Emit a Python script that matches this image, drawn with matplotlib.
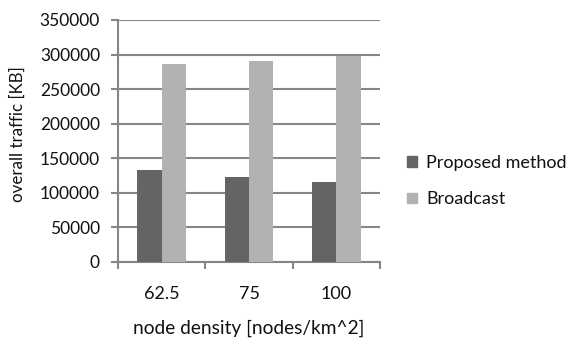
import matplotlib
matplotlib.use("Agg")
import matplotlib.pyplot as plt
import numpy as np
from matplotlib.patches import Patch

categories = ["62.5", "75", "100"]
proposed = [133000, 123000, 116000]
broadcast = [287000, 290000, 298000]
series_names = ["Proposed method", "Broadcast"]
yticks = [0, 50000, 100000, 150000, 200000, 250000, 300000, 350000]

plt.rcParams['font.family'] = ['Lato', 'DejaVu Sans']

fig = plt.figure(figsize=(5.7, 3.4), dpi=100)
ax = fig.add_axes([118/570, 1-262/340, 262/570, 242/340])

dark = "#646464"
light = "#b2b2b2"
grid = "#868686"
tc = "#111111"
x = np.arange(len(categories))
w = 0.28
ax.bar(x - w/2, proposed, w, color=dark, zorder=3)
ax.bar(x + w/2, broadcast, w, color=light, zorder=3)

ax.set_xlim(-0.5, len(categories) - 0.5)
ax.set_ylim(0, 350000)
ax.set_yticks(yticks)
ax.set_yticklabels([str(v) for v in yticks], fontsize=12.5, color=tc)
ax.yaxis.grid(True, color=grid, linewidth=1.5, zorder=0)
ax.set_axisbelow(True)

ax.set_xticks(x)
ax.set_xticklabels(categories, fontsize=13, color=tc)
ax.tick_params(axis='x', length=0, pad=17)
ax.set_xticks(np.arange(len(categories) + 1) - 0.5, minor=True)
ax.tick_params(axis='x', which='minor', length=5, width=1.5, color=grid, direction='out')
ax.tick_params(axis='y', length=5, width=1.5, color=grid, direction='out', pad=8)

for s in ['top', 'right']:
    ax.spines[s].set_visible(False)
for s in ['left', 'bottom']:
    ax.spines[s].set_color(grid)
    ax.spines[s].set_linewidth(1.5)

ax.set_ylabel("overall traffic [KB]", fontsize=12.2, color=tc)
ax.yaxis.set_label_coords((18-118)/262, (262-134)/242)
ax.yaxis.label.set_va('center')
ax.set_xlabel("node density [nodes/km^2]", fontsize=13.8, color=tc)
ax.xaxis.set_label_coords(0.5, (262-328)/242)
ax.xaxis.label.set_va('center')

handles = [Patch(color=dark), Patch(color=light)]
fig.legend(handles, series_names, loc='center left', bbox_to_anchor=(391/570, 1-181/340),
           frameon=False, fontsize=13, handlelength=0.55, handleheight=0.55,
           handletextpad=0.5, labelspacing=1.15, labelcolor=tc)

fig.savefig("out.png", dpi=100)
